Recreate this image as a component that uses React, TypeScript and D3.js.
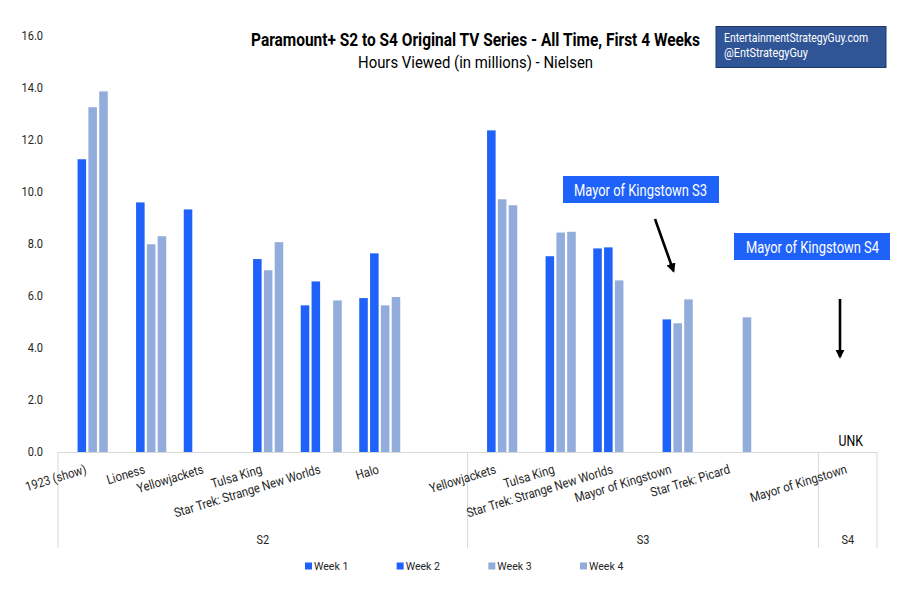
import React, { useLayoutEffect, useRef, useState } from "react";
import * as d3 from "d3";

const categories = [
  "1923 (show)", "Lioness", "Yellowjackets", "Tulsa King", "Star Trek: Strange New Worlds", "Halo", "",
  "Yellowjackets", "Tulsa King", "Star Trek: Strange New Worlds", "Mayor of Kingstown", "Star Trek: Picard", "",
  "Mayor of Kingstown",
];
const seasonNames = ["S2", "S3", "S4"];
const seasonSizes = [7, 6, 1];
const weeks = ["Week 1", "Week 2", "Week 3", "Week 4"];
const week1 = [null, null, 9.33, null, 5.64, 5.92, null, null, null, 7.83, null, null, null, null];
const week2 = [11.26, 9.6, null, 7.42, 6.56, 7.64, null, 12.37, 7.53, 7.87, 5.1, null, null, null];
const week3 = [13.26, 7.99, null, 6.99, null, 5.64, null, 9.72, 8.44, 6.6, 4.95, null, null, null];
const week4 = [13.87, 8.3, null, 8.07, 5.83, 5.96, null, 9.49, 8.47, null, 5.87, 5.18, null, null];
const yTicks = [0, 2, 4, 6, 8, 10, 12, 14, 16];
const unkLabel = "UNK";
const titleText = "Paramount+ S2 to S4 Original TV Series - All Time, First 4 Weeks";
const subtitleText = "Hours Viewed (in millions) - Nielsen";
const watermark = ["EntertainmentStrategyGuy.com", "@EntStrategyGuy"];
const annotations = ["Mayor of Kingstown S3", "Mayor of Kingstown S4"];

const W = 921, H = 596;
const FONT = "Roboto, 'Noto Sans', sans-serif";
const DARK = "#1F62F9";
const LIGHT = "#92ACDC";
const TXT = "#262626";
const weekColors = [DARK, DARK, LIGHT, LIGHT];
const series = [week1, week2, week3, week4];

function T(props: any) {
  const { x, y, rot = 0, sx = 1, children, ...rest } = props;
  return (
    <g transform={`translate(${x},${y}) rotate(${rot}) scale(${sx},1)`}>
      <text x={0} y={0} {...rest}>{children}</text>
    </g>
  );
}

// Text horizontally squeezed to a target width (condensed look)
function Fit(props: any) {
  const { x, y, width, children, ...rest } = props;
  const ref = useRef<SVGTextElement>(null);
  const [s, setS] = useState(0.75);
  useLayoutEffect(() => {
    const el = ref.current;
    if (!el) return;
    const l = el.getComputedTextLength();
    if (l > 0) setS(width / l);
  }, [width, children]);
  return (
    <g transform={`translate(${x},${y}) scale(${s},1)`}>
      <text ref={ref} x={0} y={0} {...rest}>{children}</text>
    </g>
  );
}

export default function App() {
  const x = d3.scaleBand<number>().domain(d3.range(categories.length)).range([58, 877]).padding(0);
  const bw = x.bandwidth();
  const xi = d3.scaleBand<string>().domain(weeks).range([bw / 2 - 20.5, bw / 2 + 20.5]).paddingInner(0.21).paddingOuter(0);
  const y = d3.scaleLinear().domain([0, 16]).range([452, 36]);

  const bounds: number[] = [0];
  seasonSizes.forEach((s, i) => bounds.push(bounds[i] + s));
  const bx = (b: number) => (b < categories.length ? x(b)! : 877);

  const legendX = d3.scaleLinear().domain([0, 3]).range([305, 580]);

  return (
    <svg width={W} height={H} style={{ position: "absolute", left: 0, top: 0, background: "#fff" }} fontFamily={FONT}>
      <defs>
        <marker id="ah" viewBox="0 0 10 10" refX="8" refY="5" markerWidth="3.6" markerHeight="3.6" orient="auto-start-reverse">
          <path d="M0,0 L10,5 L0,10 z" fill="#000" />
        </marker>
      </defs>
      {/* Title */}
      <Fit x={251} y={46} width={449} fontSize={18} fontWeight="bold" fill="#000">{titleText}</Fit>
      <Fit x={358} y={67.5} width={235} fontSize={17} fill="#000">{subtitleText}</Fit>

      {/* Watermark */}
      <rect x={716} y={26.5} width={170} height={41} fill="#2F5597" stroke="#1F3864" strokeWidth={1} />
      <Fit x={724} y={41.5} width={144} fontSize={12} fill="#fff">{watermark[0]}</Fit>
      <Fit x={724} y={57} width={84} fontSize={12} fill="#fff">{watermark[1]}</Fit>

      {/* Y tick labels */}
      {yTicks.map((t) => (
        <T key={t} x={43} y={y(t)} sx={0.92} dy="0.35em" textAnchor="end" fontSize={12} fill={TXT}>{d3.format(".1f")(t)}</T>
      ))}

      {/* Bars */}
      {categories.map((c, i) => (
        <g key={i} transform={`translate(${x(i)},0)`}>
          {series.map((s, k) => {
            const v = s[i];
            if (v == null) return null;
            return <rect key={k} x={xi(weeks[k])} y={y(v)} width={xi.bandwidth()} height={y(0) - y(v)} fill={weekColors[k]} />;
          })}
        </g>
      ))}

      {/* Axis */}
      <line x1={58} x2={877} y1={452.5} y2={452.5} stroke="#D9D9D9" strokeWidth={1} />
      {bounds.map((b, i) => (
        <line key={i} x1={bx(b)} x2={bx(b)} y1={452} y2={548} stroke="#D9D9D9" strokeWidth={1} />
      ))}

      {/* Category labels */}
      {categories.map((c, i) => c ? (
        <T key={i} x={x(i)! + bw / 2} y={473} rot={-17} sx={0.87} textAnchor="end" fontSize={13} fill={TXT}>{c}</T>
      ) : null)}

      {/* Season labels */}
      {seasonNames.map((s, i) => (
        <T key={s} x={(bx(bounds[i]) + bx(bounds[i + 1])) / 2} y={544} sx={0.88} textAnchor="middle" fontSize={12.5} fill={TXT}>{s}</T>
      ))}

      {/* UNK */}
      <T x={x(13)! + bw / 2 + 3} y={446} sx={0.82} textAnchor="middle" fontSize={15} fill="#000">{unkLabel}</T>

      {/* Annotations */}
      <rect x={563} y={176} width={156} height={27} fill={DARK} />
      <Fit x={574} y={195.5} width={133} fontSize={16} fill="#fff">{annotations[0]}</Fit>
      <line x1={655} y1={219} x2={673.5} y2={271} stroke="#000" strokeWidth={2.6} markerEnd="url(#ah)" />
      <rect x={734} y={233} width={156} height={27} fill={DARK} />
      <Fit x={746} y={252.5} width={133} fontSize={16} fill="#fff">{annotations[1]}</Fit>
      <line x1={840} y1={299} x2={840} y2={357} stroke="#000" strokeWidth={2.6} markerEnd="url(#ah)" />

      {/* Legend */}
      {weeks.map((w, k) => (
        <g key={w} transform={`translate(${legendX(k)},566)`}>
          <rect x={0} y={-3.5} width={7} height={7} fill={weekColors[k]} />
          <T x={9} y={0} sx={0.92} dy="0.35em" fontSize={11.5} fill={TXT}>{w}</T>
        </g>
      ))}
    </svg>
  );
}
